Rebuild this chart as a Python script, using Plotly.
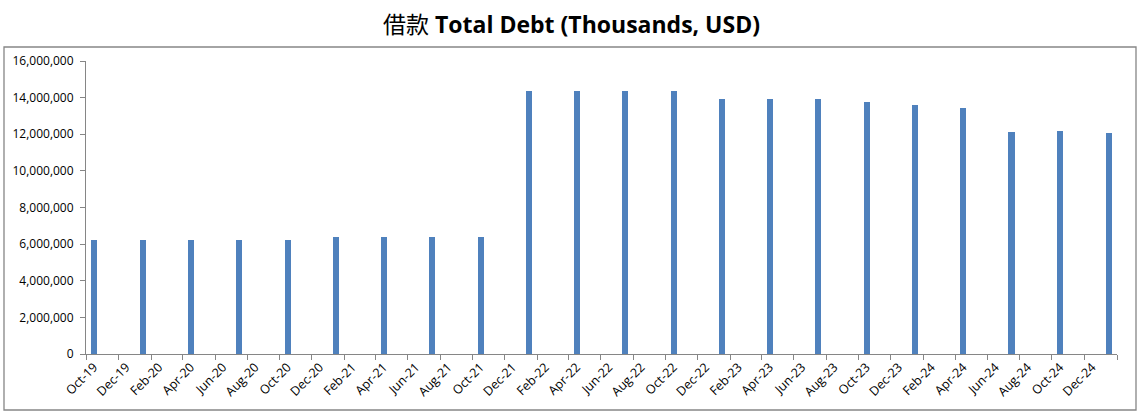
import plotly.graph_objects as go
import pandas as pd

# Data (quarterly periods, values in thousands USD)
periods = ["2019-10", "2020-01", "2020-04", "2020-07", "2020-10",
           "2021-01", "2021-04", "2021-07", "2021-10",
           "2022-01", "2022-04", "2022-07", "2022-10",
           "2023-01", "2023-04", "2023-07", "2023-10",
           "2024-01", "2024-04", "2024-07", "2024-10", "2025-01"]
total_debt = [6250000, 6250000, 6250000, 6250000, 6250000,
              6410000, 6410000, 6410000, 6410000,
              14360000, 14360000, 14360000, 14360000,
              13920000, 13920000, 13920000, 13750000,
              13590000, 13420000, 12110000, 12160000, 12050000]

tick_labels = ["Oct-19", "Dec-19", "Feb-20", "Apr-20", "Jun-20", "Aug-20", "Oct-20", "Dec-20",
               "Feb-21", "Apr-21", "Jun-21", "Aug-21", "Oct-21", "Dec-21",
               "Feb-22", "Apr-22", "Jun-22", "Aug-22", "Oct-22", "Dec-22",
               "Feb-23", "Apr-23", "Jun-23", "Aug-23", "Oct-23", "Dec-23",
               "Feb-24", "Apr-24", "Jun-24", "Aug-24", "Oct-24", "Dec-24"]

title_cn = "借款"
title_en = "Total Debt (Thousands, USD)"

bar_color = "#4F81BD"
axis_color = "#868686"
font_family = "Open Sans, Noto Sans CJK SC, sans-serif"

label_starts = pd.to_datetime(tick_labels, format="%b-%y")
label_mid = [d + pd.Timedelta(days=15) for d in label_starts]
boundaries = list(label_starts) + [label_starts[-1] + pd.DateOffset(months=2)]
x_start = label_starts[0]
x_end = boundaries[-1]

fig = go.Figure()
fig.add_trace(go.Bar(
    x=pd.to_datetime(periods),
    y=total_debt,
    xperiod="M1",
    xperiodalignment="middle",
    width=11.5 * 86400000,
    marker=dict(color=bar_color, line=dict(width=0)),
    hovertemplate="%{x|%b-%y}: %{y:,}<extra></extra>",
))

fig.update_layout(
    width=1143, height=417,
    margin=dict(l=86, r=26, t=61, b=63, autoexpand=False),
    paper_bgcolor="white", plot_bgcolor="white",
    showlegend=False,
    font=dict(family=font_family, size=12, color="#000000"),
    title=dict(
        text=f"{title_cn} <b>{title_en}</b>",
        x=0.5, xref="container", xanchor="center",
        y=1 - 25 / 417, yref="container", yanchor="middle",
        font=dict(family=font_family, size=23, color="#000000"),
    ),
    bargap=0,
)

fig.update_xaxes(
    type="date",
    range=[x_start, x_end],
    tickmode="array",
    tickvals=label_mid,
    ticktext=tick_labels,
    tickangle=-45,
    ticks="",
    automargin=False,
    showline=True, linecolor=axis_color, linewidth=1,
    showgrid=False, zeroline=False,
    minor=dict(tickmode="array", tickvals=boundaries, ticks="outside",
               ticklen=5, tickcolor=axis_color, tickwidth=1, showgrid=False),
    tickfont=dict(size=12.5),
)

fig.update_yaxes(
    range=[0, 16000000],
    tick0=0, dtick=2000000,
    tickformat=",d",
    ticks="outside", ticklen=5, tickcolor=axis_color,
    automargin=False,
    showline=True, linecolor=axis_color, linewidth=1,
    showgrid=False, zeroline=False,
    ticklabelstandoff=4,
    tickfont=dict(size=12),
)

# chart-area border
pw = 1143 - 86 - 26
ph = 417 - 61 - 63
fig.add_shape(type="rect", xref="paper", yref="paper",
              x0=(4 - 86) / pw, x1=(1136 - 86) / pw,
              y0=(354 - 410) / ph, y1=(354 - 47) / ph,
              line=dict(color=axis_color, width=1.3), fillcolor="rgba(0,0,0,0)",
              layer="below")

fig.write_html("out.html",
               config={"displayModeBar": False},
               post_script="document.body.style.margin='0';document.body.style.overflow='hidden';")
